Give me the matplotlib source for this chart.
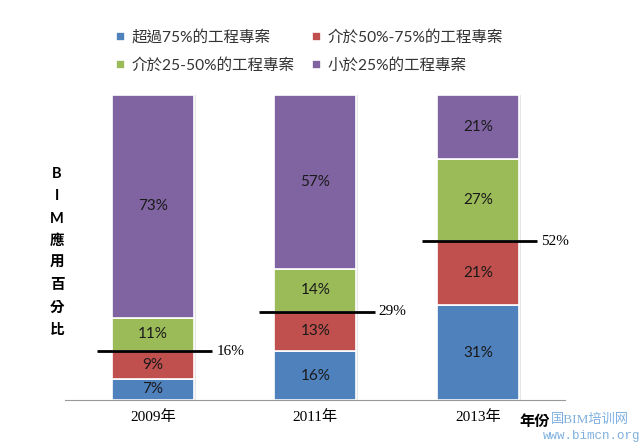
import numpy as np
import matplotlib.pyplot as plt

plt.rcParams['font.family'] = ['Lato', 'Noto Sans CJK TC', 'DejaVu Sans']

years = ['2009年', '2011年', '2013年']
series = ['超過75%的工程專案', '介於50%-75%的工程專案', '介於25-50%的工程專案', '小於25%的工程專案']
values = [
    [7, 16, 31],
    [9, 13, 21],
    [11, 14, 27],
    [73, 57, 21],
]
line_marks = [16, 29, 52]
colors = ['#4F81BD', '#C0504D', '#9BBB59', '#8064A2']

fig = plt.figure(figsize=(6.4, 4.46), dpi=100)
ax = fig.add_axes([65 / 640, 46 / 446, 500 / 640, 305 / 446])

x = np.arange(len(years))
w = 0.505
bottom = np.zeros(len(years))
handles = []
for vals, name, c in zip(values, series, colors):
    # faint shadow on the right
    ax.bar(x + 0.012, vals, w, bottom=bottom, color='#e6e6e6', zorder=1)
    b = ax.bar(x, vals, w, bottom=bottom, color=c, edgecolor='white', linewidth=1.2, label=name, zorder=2)
    handles.append(b)
    for xi, v, b0 in zip(x, vals, bottom):
        ax.text(xi, b0 + v / 2, f'{v}%', ha='center', va='center', fontsize=11, color='#1a1a1a', zorder=3)
    bottom += np.array(vals)

for xi, m in zip(x, line_marks):
    ax.hlines(m, xi - 0.345, xi + 0.365, color='black', linewidth=2, zorder=4)
    ax.text(xi + 0.39, m, f'{m}%', ha='left', va='center', fontsize=11,
            family=['Liberation Serif', 'Noto Sans CJK TC'])

ax.set_xlim(-0.54, 2.535)
ax.set_ylim(0, 100)
ax.set_xticks(x)
ax.set_xticklabels(years, family=['Liberation Serif', 'Noto Sans CJK TC'], fontsize=11)
ax.tick_params(axis='x', length=0, pad=7)
ax.set_yticks([])
for s in ['left', 'right', 'top']:
    ax.spines[s].set_visible(False)
ax.spines['bottom'].set_color('#999999')

# legend fills by column, so order handles to read row by row
order = [0, 2, 1, 3]
fig.legend(handles=[handles[i] for i in order], labels=[series[i] for i in order],
           loc='upper left', bbox_to_anchor=(102 / 640, 1 - 16 / 446),
           ncol=2, frameon=False, fontsize=11.2, handlelength=0.6, handleheight=0.6,
           columnspacing=1.1, handletextpad=0.4, labelspacing=0.85, labelcolor='#333333')

fig.text(57 / 640, 1 - 252 / 446, '\n'.join('BIM應用百分比'), ha='center', va='center',
         fontsize=10.5, fontweight='bold', linespacing=1.75)
fig.text(535 / 640, 1 - 422 / 446, '年份', ha='center', va='center', fontsize=11, fontweight='bold')
fig.text(590 / 640, 1 - 420 / 446, '国BIM培训网', ha='center', va='center', fontsize=9.5,
         color='#7fb0e0', family=['Liberation Serif', 'Noto Sans CJK SC'])
fig.text(592 / 640, 1 - 436 / 446, 'www.bimcn.org', ha='center', va='center', fontsize=9,
         color='#7fb0e0', family='Liberation Mono')

fig.savefig('out.png', dpi=100)
